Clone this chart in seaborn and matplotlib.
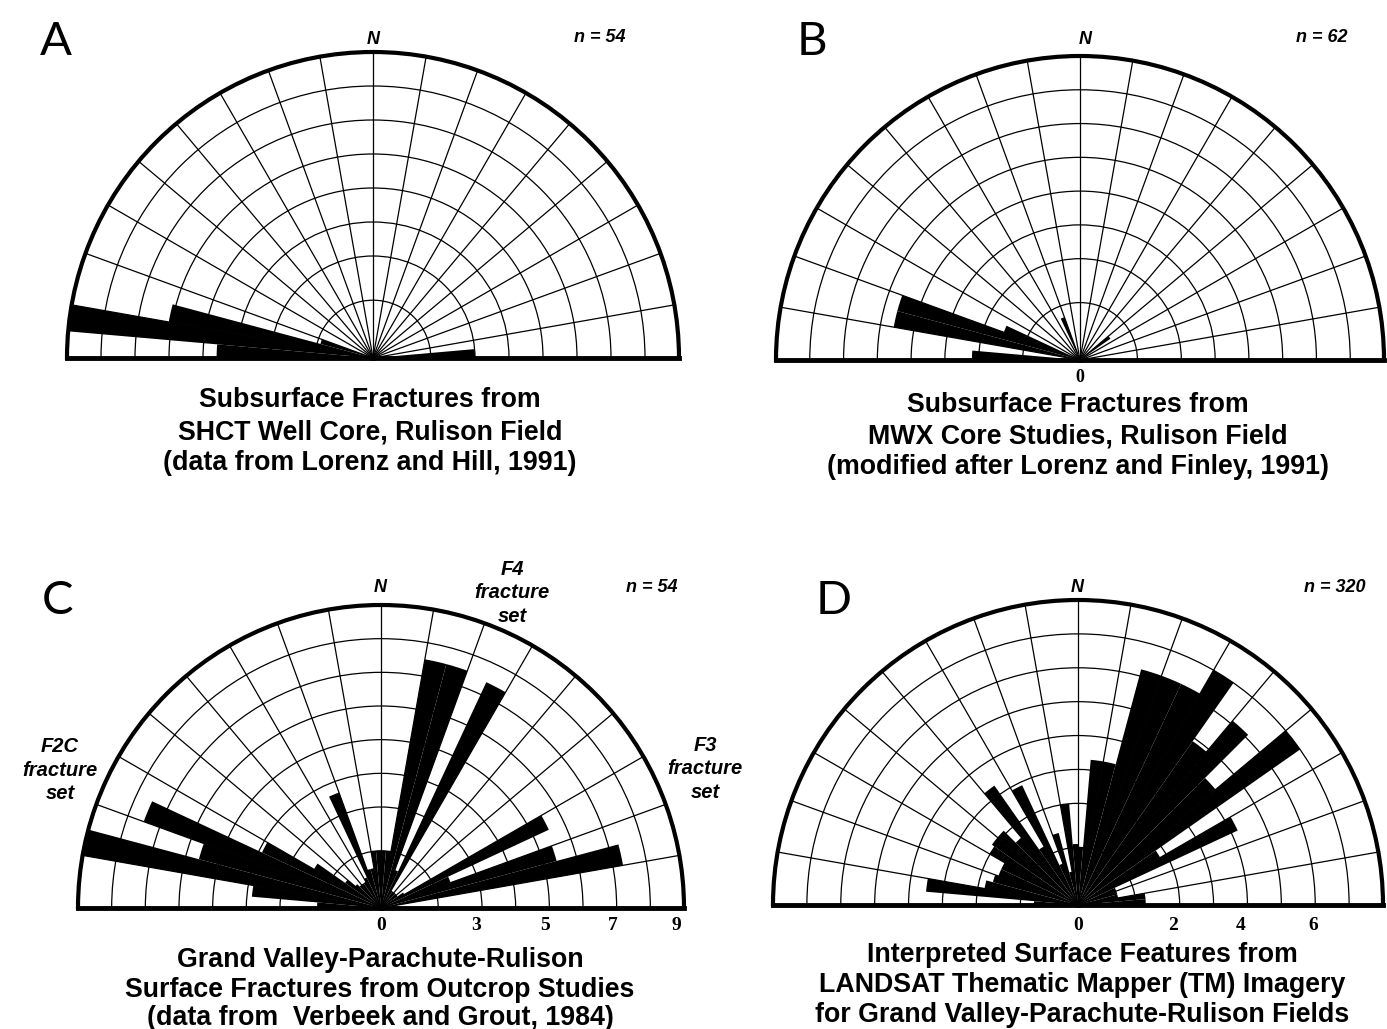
import numpy as np
import matplotlib
matplotlib.use("Agg")
import matplotlib.pyplot as plt
import seaborn as sns

W, H = 1387, 1029

# ring radii of the printed net (outer edge = 9)
RINGS = [1.7, 3, 4, 5, 6, 7, 8]
R_MAX = 9
BIN = 5  # degrees

# --- A: SHCT well core ---
A_AZIMUTH = [-87.5, -82.5, -77.5, -72.5, 87.5]
A_LENGTH = [4.6, 9.0, 6.1, 1.6, 3.0]

# --- B: MWX core ---
B_AZIMUTH = [-87.5, -77.5, -72.5, -67.5, -22.5, 52.5]
B_LENGTH = [3.2, 5.6, 5.6, 2.4, 1.35, 1.1]

# --- C: outcrop studies ---
C_AZIMUTH = [-87.5, -82.5, -77.5, -72.5, -67.5, -62.5, -57.5, -52.5, -47.5,
             -42.5, -37.5, -32.5, -27.5, -22.5, -17.5, -12.5, -7.5, -2.5,
             2.5, 7.5, 12.5, 17.5, 22.5, 27.5, 32.5, 37.5, 42.5, 47.5, 52.5,
             57.5, 62.5, 67.5, 72.5, 77.5, 82.5, 87.5]
C_LENGTH = [1.9, 3.85, 9.0, 5.6, 7.5, 3.9, 2.3, 1.3, 1.0,
            0.9, 0.9, 0.9, 1.0, 3.65, 1.2, 1.2, 1.7, 1.7,
            1.7, 1.7, 7.5, 7.5, 1.2, 7.4, 0.6, 0.6, 0.6, 0.6, 0.6,
            0.8, 5.5, 2.2, 5.4, 7.3, 0.4, 0.3]
C_SCALE_POS = [0, 2.82, 4.87, 6.89, 8.76]
C_SCALE_TXT = ["0", "3", "5", "7", "9"]

# --- D: LANDSAT TM lineaments ---
D_AZIMUTH = C_AZIMUTH
D_LENGTH = [1.3, 4.5, 2.8, 2.6, 2.5, 2.5, 3.0, 3.1, 3.1,
            2.6, 4.3, 2.0, 3.9, 1.3, 2.2, 1.0, 3.0, 1.8,
            1.7, 4.3, 4.3, 7.2, 7.2, 7.2, 8.0, 5.9, 7.1, 5.3, 8.0,
            2.8, 5.2, 1.2, 1.2, 1.2, 2.0, 2.0]
D_SCALE_POS = [0, 2.8, 4.8, 6.95]
D_SCALE_TXT = ["0", "2", "4", "6"]

TITLES = {
    "A": ["Subsurface Fractures from", "SHCT Well Core, Rulison Field",
          "(data from Lorenz and Hill, 1991)"],
    "B": ["Subsurface Fractures from", "MWX Core Studies, Rulison Field",
          "(modified after Lorenz and Finley, 1991)"],
    "C": ["Grand Valley-Parachute-Rulison", "Surface Fractures from Outcrop Studies",
          "(data from  Verbeek and Grout, 1984)"],
    "D": ["Interpreted Surface Features from", "LANDSAT Thematic Mapper (TM) Imagery",
          "for Grand Valley-Parachute-Rulison Fields"],
}
COUNTS = {"A": "n = 54", "B": "n = 62", "C": "n = 54", "D": "n = 320"}

sns.set_theme(style="white")
plt.rcParams["font.family"] = ["Liberation Sans", "DejaVu Sans"]
plt.rcParams["text.color"] = "black"


def fx(x, y):
    return x / W, 1 - y / H


def add_rose(fig, cx, cy, r, az, length):
    # square box: matplotlib centres the half disc vertically inside it
    ax = fig.add_axes([(cx - r) / W, (H - cy - 0.5 * r) / H, 2 * r / W, 2 * r / H],
                      projection="polar")
    ax.set_theta_zero_location("N")
    ax.set_theta_direction(-1)
    ax.set_thetamin(-90)
    ax.set_thetamax(90)
    ax.set_ylim(0, R_MAX)
    ticks = np.arange(-90, 91, 10)
    ax.set_xticks(np.deg2rad(ticks))
    ax.set_xticklabels([""] * len(ticks))
    ax.set_yticks(RINGS)
    ax.set_yticklabels([""] * len(RINGS))
    ax.grid(True, color="black", linewidth=0.9)
    ax.set_axisbelow(True)
    ax.set_facecolor("white")
    ax.bar(np.deg2rad(az), length, width=np.deg2rad(BIN), color="black",
           edgecolor="none", zorder=3)
    ax.spines["polar"].set_linewidth(3)
    ax.spines["start"].set_linewidth(3.5)
    ax.spines["end"].set_linewidth(3.5)
    for s in ax.spines.values():
        s.set_color("black")
    return ax


fig = plt.figure(figsize=(W / 100, H / 100), dpi=100)

panels = {
    "A": (373, 358, 306, A_AZIMUTH, A_LENGTH),
    "B": (1080, 360, 304, B_AZIMUTH, B_LENGTH),
    "C": (381, 908, 303, C_AZIMUTH, C_LENGTH),
    "D": (1078, 905, 305, D_AZIMUTH, D_LENGTH),
}
for key, (cx, cy, r, az, ln) in panels.items():
    add_rose(fig, cx, cy, r, az, ln)

# panel letters, N and counts
letter_pos = {"A": (56, 42), "B": (812, 42), "C": (58, 601), "D": (834, 601)}
north_pos = {"A": (373, 40), "B": (1085, 40), "C": (380, 588), "D": (1077, 588)}
count_pos = {"A": (600, 38), "B": (1322, 38), "C": (652, 588), "D": (1335, 588)}
for key in panels:
    fig.text(*fx(*letter_pos[key]), key, fontsize=34, family="Lato",
             ha="center", va="center")
    fig.text(*fx(*north_pos[key]), "N", fontsize=13, weight="bold",
             style="italic", ha="center", va="center")
    fig.text(*fx(*count_pos[key]), COUNTS[key], fontsize=13, weight="bold",
             style="italic", ha="center", va="center")

# fracture set labels on panel C
for (x, y), txt in [((512, 593), "F4\nfracture\nset"),
                    ((60, 770), "F2C\nfracture\nset"),
                    ((705, 769), "F3\nfracture\nset")]:
    fig.text(*fx(x, y), txt, fontsize=14.5, weight="bold", style="italic",
             ha="center", va="center", linespacing=1.3)

# scale labels
serif = ["Liberation Serif", "DejaVu Serif"]
fig.text(*fx(1080, 378), "0", fontsize=13, weight="bold", family=serif,
         ha="center", va="center")
for (cx, cy, r), pos, txt in [((381, 908, 303), C_SCALE_POS, C_SCALE_TXT),
                              ((1078, 905, 305), D_SCALE_POS, D_SCALE_TXT)]:
    for p, t in zip(pos, txt):
        fig.text(*fx(cx + p * r / R_MAX, 925), t, fontsize=14, weight="bold",
                 family=serif, ha="center", va="center")

# titles
title_pos = {"A": (370, [400, 432, 463]), "B": (1078, [405, 436, 467]),
             "C": (380, [960, 990, 1018]), "D": (1082, [955, 985, 1015])}
for key, (x, ys) in title_pos.items():
    for y, line in zip(ys, TITLES[key]):
        fig.text(*fx(x, y), line, fontsize=19.3, weight="bold",
                 ha="center", va="center")

fig.savefig("out.png", dpi=100, facecolor="white")
